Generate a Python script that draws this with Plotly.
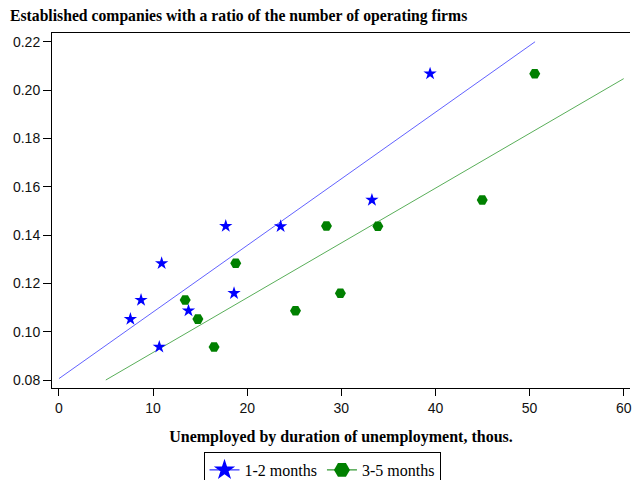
import numpy as np
import plotly.graph_objects as go

# Data
ratio_1_2 = [0.1052, 0.1131, 0.1283, 0.0937, 0.1087, 0.1437, 0.1159, 0.1436, 0.1545, 0.2068]
unemp_1_2 = [7.59, 8.72, 10.91, 10.66, 13.76, 17.72, 18.60, 23.55, 33.25, 39.43]

ratio_3_5 = [0.1131, 0.1052, 0.0937, 0.1283, 0.1087, 0.1437, 0.1159, 0.1436, 0.1545, 0.2068]
unemp_3_5 = [13.41, 14.76, 16.48, 18.78, 25.13, 28.42, 29.90, 33.88, 44.97, 50.55]

series_names = ["1-2 months", "3-5 months"]
x_ticks = [0, 10, 20, 30, 40, 50, 60]
y_ticks = [0.08, 0.10, 0.12, 0.14, 0.16, 0.18, 0.20, 0.22]

BLUE = "#0000ff"
GREEN = "#008000"


def fit_segment(x, y, xlo, xhi, ylo, yhi):
    """OLS fit of y on x, clipped to the box [xlo,xhi] x [ylo,yhi]."""
    b, a = np.polyfit(x, y, 1)
    xs_at_ylo = (ylo - a) / b
    xs_at_yhi = (yhi - a) / b
    x0 = max(xlo, min(xs_at_ylo, xs_at_yhi))
    x1 = min(xhi, max(xs_at_ylo, xs_at_yhi))
    xs = np.array([x0, x1])
    return xs, a + b * xs


fx1, fy1 = fit_segment(unemp_1_2, ratio_1_2, x_ticks[0], x_ticks[-1], y_ticks[0], y_ticks[-1])
fx2, fy2 = fit_segment(unemp_3_5, ratio_3_5, x_ticks[0], x_ticks[-1], y_ticks[0], y_ticks[-1])

fig = go.Figure()

# regression lines
fig.add_trace(go.Scatter(x=fx1, y=fy1, mode="lines", line=dict(color="rgba(70,70,255,0.85)", width=1),
                         showlegend=False, hoverinfo="skip"))
fig.add_trace(go.Scatter(x=fx2, y=fy2, mode="lines", line=dict(color="rgba(60,160,60,0.85)", width=1),
                         showlegend=False, hoverinfo="skip"))

# data points
fig.add_trace(go.Scatter(x=unemp_1_2, y=ratio_1_2, mode="markers",
                         marker=dict(symbol="star", size=10, color=BLUE, line=dict(width=0)),
                         showlegend=False, name=series_names[0]))
fig.add_trace(go.Scatter(x=unemp_3_5, y=ratio_3_5, mode="markers",
                         marker=dict(symbol="hexagon2", size=11, color=GREEN, line=dict(width=0)),
                         showlegend=False, name=series_names[1]))

# legend entries
fig.add_trace(go.Scatter(x=[None], y=[None], mode="lines+markers", name=series_names[0],
                         line=dict(color=BLUE, width=1),
                         marker=dict(symbol="star", size=16, color=BLUE)))
fig.add_trace(go.Scatter(x=[None], y=[None], mode="lines+markers", name=series_names[1],
                         line=dict(color=GREEN, width=1),
                         marker=dict(symbol="hexagon2", size=16, color=GREEN)))

tick_font = dict(family="Liberation Sans, Arial, sans-serif", size=14, color="#111")
serif_bold = dict(family="Liberation Serif, Times New Roman, serif", size=16, color="black")
title_font = dict(family="Liberation Serif, Times New Roman, serif", size=15.7, color="black")

fig.update_layout(
    width=632, height=480,
    margin=dict(l=52, r=0, t=33, b=92),
    paper_bgcolor="white", plot_bgcolor="white",
    title=dict(text="<b>Established companies with a ratio of the number of operating firms</b>",
               font=title_font, x=10 / 632, xref="container", xanchor="left",
               y=1 - 16 / 480, yref="container", yanchor="middle"),
    xaxis=dict(range=[-0.74, 60.67], tickvals=x_ticks, ticktext=[str(v) for v in x_ticks],
               ticks="outside", ticklen=7, tickcolor="black", tickwidth=1,
               showline=True, linecolor="black", linewidth=1, mirror=True,
               showgrid=False, zeroline=False, tickfont=tick_font,
               ticklabeloverflow="allow",
               title=dict(text="<b>Unemployed by duration of unemployment, thous.</b>",
                          font=serif_bold, standoff=16)),
    yaxis=dict(range=[0.07669, 0.22363], tickvals=y_ticks, ticktext=[f"{v:.2f}" for v in y_ticks],
               ticks="outside", ticklen=8, tickcolor="black", tickwidth=1,
               showline=True, linecolor="black", linewidth=1, mirror=False,
               showgrid=False, zeroline=False, tickfont=tick_font, automargin=False),
    legend=dict(orientation="h", x=322 / 632, xref="container", xanchor="center",
                y=(480 - 452) / 480, yref="container", yanchor="top",
                bordercolor="black", borderwidth=1, bgcolor="white",
                font=dict(family="Liberation Serif, Times New Roman, serif", size=16, color="black"),
                itemwidth=30, tracegroupgap=0),
    showlegend=True,
)

fig.write_html("out.html", config={"displayModeBar": False},
               post_script="document.body.style.margin='0';document.body.style.padding='0';")
